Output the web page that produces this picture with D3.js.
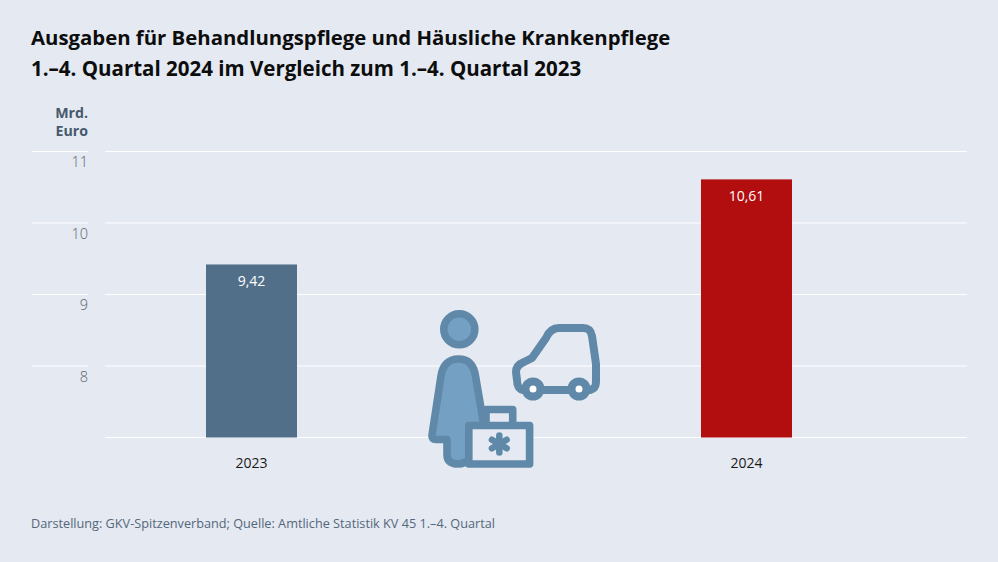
<!DOCTYPE html>
<html><head><meta charset="utf-8">
<script src="https://cdn.jsdelivr.net/npm/d3@7"></script>
<style>html,body{margin:0;padding:0;background:#e4e9f2}svg{display:block}text{font-family:"Open Sans",sans-serif}</style>
</head><body><svg id="c" width="998" height="562"></svg>
<script>
const categories = ["2023","2024"];
const values = [9.42,10.61];
const valueLabels = ["9,42","10,61"];
const yTicks = [8,9,10,11];
const titleLines = ["Ausgaben für Behandlungspflege und Häusliche Krankenpflege","1.–4. Quartal 2024 im Vergleich zum 1.–4. Quartal 2023"];
const unitLines = ["Mrd.","Euro"];
const sourceText = "Darstellung: GKV-Spitzenverband; Quelle: Amtliche Statistik KV 45 1.–4. Quartal";

const svg = d3.select("#c");
const y = d3.scaleLinear().domain([7,11]).range([437.5,151.5]);
const barW = 91;
const x = d3.scalePoint().domain(categories).range([251.5,746.5]);
const cx = d => x(d);

svg.selectAll(".t").data(titleLines).join("text").attr("x",31).attr("y",(d,i)=>44.5+i*31.5)
  .attr("font-size",(d,i)=>i?20.5:20.35).attr("font-weight",700).attr("fill","#0d0d0d").text(d=>d);
svg.selectAll(".u").data(unitLines).join("text").attr("x",88).attr("y",(d,i)=>118+i*18)
  .attr("text-anchor","end").attr("font-size",14.2).attr("font-weight",700).attr("fill","#46596c").text(d=>d);

const grid = [7,...yTicks];
svg.selectAll(".g").data(grid).join("line").attr("x1",105).attr("x2",967).attr("y1",d=>y(d)).attr("y2",d=>y(d))
  .attr("stroke","#fff").attr("stroke-width",1.2);
svg.selectAll(".gl").data(yTicks).join("line").attr("x1",32).attr("x2",88).attr("y1",d=>y(d)).attr("y2",d=>y(d))
  .attr("stroke","#fff").attr("stroke-width",1.2);
svg.selectAll(".yl").data(yTicks).join("text").attr("x",88).attr("y",d=>y(d)+15.5)
  .attr("text-anchor","end").attr("font-size",14.5).attr("font-weight",300).attr("fill","#5a646e").text(d=>d);

svg.selectAll(".b").data(values).join("rect")
  .attr("x",(d,i)=>cx(categories[i])-barW/2).attr("width",barW)
  .attr("y",d=>y(d)).attr("height",d=>y(7)-y(d))
  .attr("fill",(d,i)=>i?"#b20d0f":"#516f88");
svg.selectAll(".v").data(values).join("text")
  .attr("x",(d,i)=>cx(categories[i])).attr("y",d=>y(d)+22)
  .attr("text-anchor","middle").attr("font-size",14).attr("fill","#fff").text((d,i)=>valueLabels[i]);
svg.selectAll(".c").data(categories).join("text")
  .attr("x",d=>cx(d)).attr("y",468).attr("text-anchor","middle").attr("font-size",14).attr("fill","#1a1a1a").text(d=>d);
svg.append("text").attr("x",31).attr("y",528).attr("font-size",12.7).attr("fill","#55677a").text(sourceText);

// icon
const blue="#6088a8", light="#74a0c4";
const ic = svg.append("g").attr("fill","none").attr("stroke",blue).attr("stroke-width",7.6).attr("stroke-linejoin","round").attr("stroke-linecap","round");
ic.append("circle").attr("cx",459.3).attr("cy",329.3).attr("r",15.5).attr("fill",light);
ic.append("path").attr("fill",light).attr("d","M458.5 359 C469 359 474 366 475.5 376 L483 420 L483 440 L470 440 L470 458 Q465 464 458 464 C451 464 447 461 447 455 L447 439.5 L436 439.5 Q431.5 439.5 432 435 L441 376 C442.5 366 448 359 458.5 359 Z");
ic.append("path").attr("d","M486 424 L486 409.5 L512.7 409.5 L512.7 424");
ic.append("rect").attr("x",468.8).attr("y",425.5).attr("width",60.8).attr("height",38.5).attr("fill","#e4e9f2");
const star = svg.append("g").attr("stroke",blue).attr("stroke-width",6.5).attr("stroke-linecap","round");
[0,60,120].forEach(a=>{const r=a*Math.PI/180,dx=8.5*Math.sin(r),dy=8.5*Math.cos(r);
  star.append("line").attr("x1",499.3-dx).attr("x2",499.3+dx).attr("y1",444-dy).attr("y2",444+dy);});
ic.append("path").attr("stroke-width",8).attr("d","M528 390 L524 390 C519 390 517 385 517 380 L516 372 C516 367 519 364 524 362 L532 358 L546 338 C549 331 553 328 559 328 L583 328 C589 328 591 331 592 336 L596 364 L596 382 C596 387 594 389 590 390 L540 390");
[533,579].forEach(c=>svg.append("circle").attr("cx",c).attr("cy",389).attr("r",7.5).attr("fill","#fff").attr("stroke",blue).attr("stroke-width",8));
</script></body></html>
